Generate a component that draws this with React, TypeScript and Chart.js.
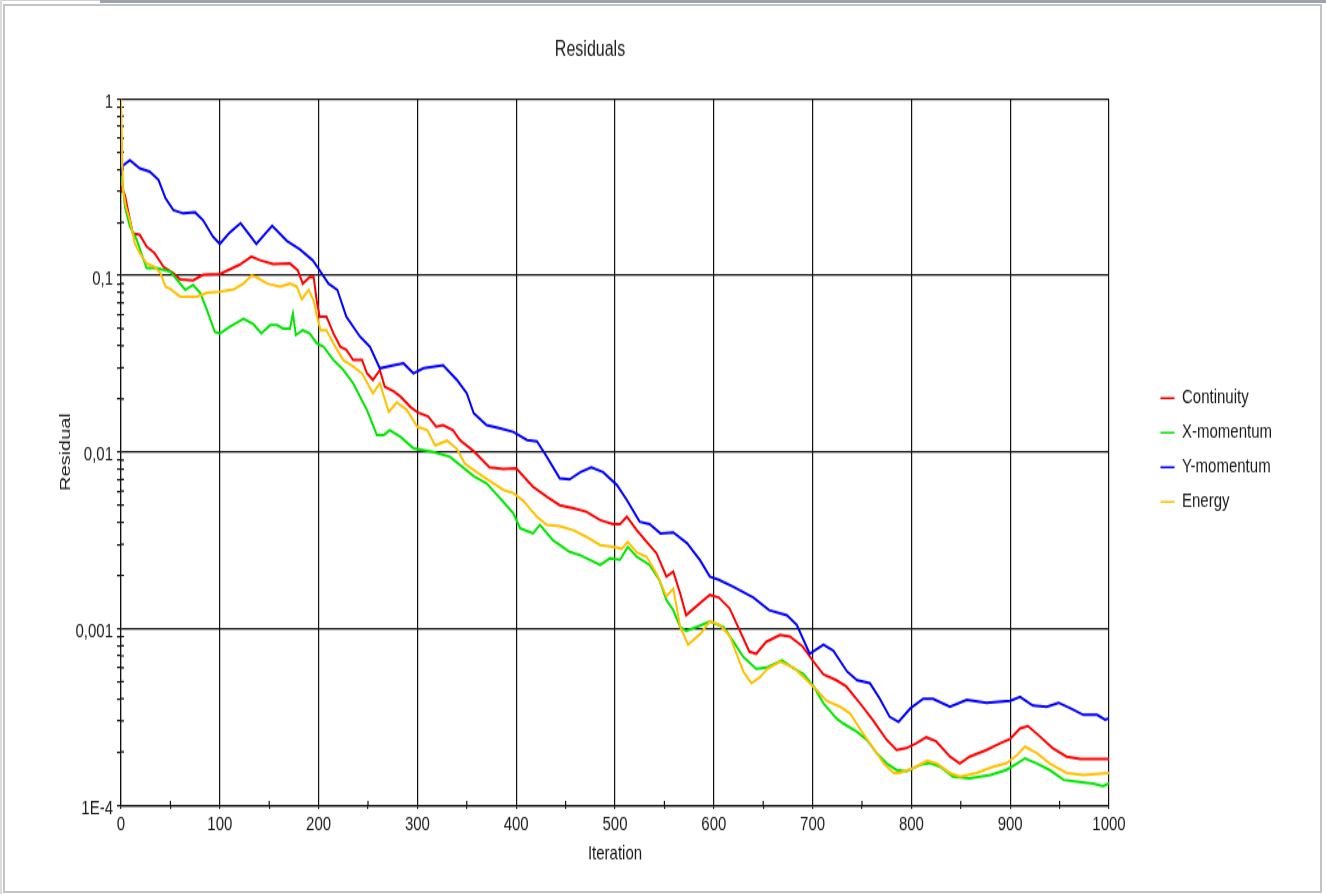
import React, { useEffect, useRef } from 'react';
import { Chart, registerables } from 'chart.js';

Chart.register(...registerables);

// ---------------- data ----------------
const continuityIter = [0, 4, 7, 12, 19, 26, 34, 43, 53, 60, 73, 83, 100, 120, 132, 141, 154, 171, 179, 184, 191, 195, 198, 201, 208, 215, 222, 228, 235, 244, 249, 255, 262, 267, 276, 283, 293, 300, 311, 319, 326, 336, 343, 347, 357, 373, 387, 400, 417, 431, 444, 458, 471, 485, 498, 505, 512, 522, 532, 542, 552, 559, 566, 572, 586, 596, 605, 616, 626, 636, 643, 653, 667, 677, 690, 700, 711, 724, 734, 748, 761, 775, 785, 795, 805, 815, 825, 839, 849, 859, 876, 890, 900, 910, 918, 930, 943, 957, 971, 1000];
const continuityRes = [0.32, 0.286, 0.235, 0.173, 0.17, 0.146, 0.134, 0.112, 0.103, 0.095, 0.094, 0.101, 0.102, 0.115, 0.128, 0.122, 0.116, 0.117, 0.107, 0.09, 0.098, 0.098, 0.0726, 0.0585, 0.0585, 0.047, 0.0395, 0.038, 0.0332, 0.0332, 0.0279, 0.0256, 0.0292, 0.0234, 0.0221, 0.0206, 0.018, 0.0168, 0.0159, 0.0139, 0.0142, 0.0133, 0.0117, 0.0112, 0.0101, 0.0082, 0.008, 0.0081, 0.00636, 0.00558, 0.005, 0.0048, 0.00459, 0.00412, 0.0039, 0.0039, 0.0043, 0.00361, 0.0031, 0.00267, 0.00197, 0.0021, 0.00158, 0.00119, 0.00139, 0.00155, 0.0015, 0.0013, 0.00098, 0.00074, 0.00072, 0.00084, 0.00092, 0.0009, 0.00079, 0.00066, 0.00055, 0.00051, 0.00047, 0.000377, 0.000303, 0.000234, 0.000205, 0.00021, 0.000224, 0.000242, 0.00023, 0.000188, 0.000172, 0.000188, 0.000205, 0.000224, 0.000237, 0.000272, 0.00028, 0.000245, 0.00021, 0.000188, 0.000182, 0.000182];

const xMomentumIter = [0, 4, 9, 16, 23, 26, 36, 50, 60, 65, 73, 80, 87, 95, 100, 110, 124, 134, 142, 151, 158, 164, 171, 174, 177, 184, 191, 198, 205, 215, 225, 235, 249, 259, 266, 272, 283, 296, 316, 333, 347, 357, 370, 384, 397, 404, 417, 424, 437, 454, 465, 485, 495, 505, 513, 522, 535, 545, 552, 559, 566, 572, 586, 596, 610, 620, 630, 643, 653, 669, 680, 691, 701, 711, 724, 731, 745, 755, 765, 775, 785, 795, 809, 819, 829, 842, 859, 880, 896, 907, 915, 927, 940, 954, 967, 984, 994, 1000];
const xMomentumRes = [0.41, 0.245, 0.189, 0.159, 0.122, 0.11, 0.11, 0.105, 0.09, 0.083, 0.0885, 0.08, 0.0638, 0.048, 0.047, 0.0513, 0.057, 0.053, 0.047, 0.0524, 0.0524, 0.05, 0.05, 0.061, 0.046, 0.049, 0.047, 0.0413, 0.0395, 0.0332, 0.0292, 0.0245, 0.0173, 0.0125, 0.0125, 0.0133, 0.0122, 0.0105, 0.01, 0.0094, 0.0081, 0.0073, 0.00665, 0.00545, 0.0045, 0.0037, 0.00346, 0.00386, 0.00317, 0.00272, 0.0026, 0.00229, 0.0025, 0.00245, 0.0029, 0.00255, 0.00229, 0.00188, 0.00145, 0.00127, 0.00102, 0.00097, 0.00104, 0.0011, 0.00102, 0.00084, 0.00069, 0.00059, 0.0006, 0.00066, 0.0006, 0.00055, 0.00047, 0.000377, 0.00031, 0.00029, 0.00026, 0.000234, 0.000196, 0.000172, 0.000158, 0.000155, 0.000169, 0.000173, 0.000165, 0.000145, 0.000142, 0.000148, 0.000158, 0.000172, 0.000184, 0.000172, 0.000158, 0.000139, 0.000136, 0.000132, 0.000128, 0.000133];

const yMomentumIter = [0, 2, 9, 19, 29, 38, 45, 53, 63, 75, 83, 93, 100, 110, 121, 130, 137, 145, 153, 168, 181, 194, 201, 210, 219, 228, 242, 252, 262, 276, 286, 296, 306, 326, 340, 350, 357, 370, 384, 397, 411, 421, 431, 444, 454, 465, 476, 488, 502, 512, 525, 535, 546, 559, 573, 586, 596, 605, 620, 640, 656, 674, 684, 697, 711, 721, 735, 745, 758, 768, 778, 787, 799, 812, 822, 839, 856, 876, 900, 910, 923, 937, 949, 961, 974, 988, 996, 1000];
const yMomentumRes = [0.37, 0.42, 0.45, 0.405, 0.388, 0.348, 0.274, 0.235, 0.225, 0.228, 0.206, 0.166, 0.151, 0.175, 0.198, 0.17, 0.151, 0.17, 0.191, 0.157, 0.141, 0.122, 0.107, 0.09, 0.0828, 0.0585, 0.045, 0.0395, 0.0298, 0.031, 0.0318, 0.0279, 0.0298, 0.031, 0.0256, 0.0215, 0.0166, 0.0142, 0.0136, 0.013, 0.0117, 0.0115, 0.0094, 0.0071, 0.007, 0.0077, 0.0082, 0.0077, 0.0065, 0.00535, 0.00403, 0.0039, 0.00346, 0.0035, 0.00304, 0.00244, 0.00197, 0.00189, 0.00172, 0.0015, 0.00127, 0.00119, 0.00105, 0.00072, 0.00081, 0.00075, 0.00057, 0.00051, 0.00049, 0.0004, 0.000316, 0.000296, 0.000353, 0.0004, 0.0004, 0.00036, 0.000394, 0.00038, 0.00039, 0.00041, 0.000366, 0.00036, 0.00038, 0.000353, 0.000324, 0.000324, 0.000305, 0.00031];

const energyIter = [0, 2, 5, 9, 14, 19, 26, 34, 40, 45, 50, 60, 77, 87, 100, 114, 124, 132, 137, 148, 161, 171, 178, 183, 190, 195, 198, 202, 208, 215, 225, 235, 244, 255, 262, 271, 279, 289, 300, 310, 318, 330, 340, 348, 360, 374, 387, 397, 407, 421, 431, 444, 458, 471, 485, 498, 507, 513, 522, 532, 542, 552, 559, 566, 574, 586, 596, 606, 616, 623, 630, 638, 647, 654, 667, 681, 694, 704, 714, 728, 738, 748, 758, 772, 782, 788, 802, 816, 826, 839, 849, 866, 883, 896, 907, 915, 927, 940, 957, 974, 1000];
const energyRes = [1, 0.305, 0.245, 0.206, 0.152, 0.134, 0.117, 0.112, 0.103, 0.0865, 0.084, 0.076, 0.076, 0.08, 0.081, 0.0835, 0.09, 0.1, 0.098, 0.09, 0.0865, 0.09, 0.0865, 0.0733, 0.083, 0.072, 0.0597, 0.049, 0.049, 0.0413, 0.0332, 0.0306, 0.0279, 0.0215, 0.0245, 0.0169, 0.0191, 0.0174, 0.0139, 0.0133, 0.0109, 0.0116, 0.0104, 0.0086, 0.0077, 0.0068, 0.0061, 0.00585, 0.0053, 0.0043, 0.00386, 0.0038, 0.0036, 0.00331, 0.00297, 0.0029, 0.00283, 0.0031, 0.0027, 0.00255, 0.00205, 0.00152, 0.00168, 0.00102, 0.00081, 0.00093, 0.0011, 0.00105, 0.00091, 0.00072, 0.00057, 0.00049, 0.00053, 0.00059, 0.00065, 0.0006, 0.00051, 0.00045, 0.00039, 0.00036, 0.00033, 0.00027, 0.000224, 0.000172, 0.000152, 0.000152, 0.000162, 0.000178, 0.000172, 0.000152, 0.000145, 0.000152, 0.000165, 0.000172, 0.000192, 0.000214, 0.000197, 0.000172, 0.000152, 0.000148, 0.000152];

const seriesLabels = ['Continuity', 'X-momentum', 'Y-momentum', 'Energy'];
const seriesColors = ['#ff0000', '#00e600', '#0000ff', '#ffc000'];

const X_TICKS = [0, 50, 100, 150, 200, 250, 300, 350, 400, 450, 500, 550, 600, 650, 700, 750, 800, 850, 900, 950, 1000];
const X_LABEL_STEP = 100;
const Y_DECADES = [1e-4, 1e-3, 1e-2, 1e-1, 1];
const Y_DECADE_LABELS = ['1E-4', '0,001', '0,01', '0,1', '1'];
const Y_MULTIPLIERS = [1, 2, 3, 4, 5, 6, 7, 8, 9];

const TITLE = 'Residuals';
const X_TITLE = 'Iteration';
const Y_TITLE = 'Residual';

// ---------------- layout ----------------
const PAGE_W = 1326;
const PAGE_H = 894;
const CANVAS_H = 672;
const K = PAGE_H / CANVAS_H; // vertical stretch
const SHIFT = 102;
const CANVAS_W = 1384;
const PLOT_LEFT = 121;
const PLOT_RIGHT = 1109;
const PLOT_TOP = 99;
const PLOT_BOTTOM = 805;
const PAD_BOTTOM = -4.4;
const FONT = "'Liberation Sans', Arial, Helvetica, sans-serif";
const INK = '#1a1a1a';
const GRID = '#111111';

const isMajorY = (v: number) => Y_DECADES.some((d) => Math.abs(v / d - 1) < 1e-6);
const yLabel = (v: number) => {
  const i = Y_DECADES.findIndex((d) => Math.abs(v / d - 1) < 1e-6);
  return i >= 0 ? Y_DECADE_LABELS[i] : '';
};

const minorStubs = {
  id: 'minorStubs',
  beforeDatasetsDraw(chart: any) {
    const { ctx, chartArea, scales } = chart;
    const ys = scales.y;
    const xs = scales.x;
    ctx.save();
    ctx.strokeStyle = GRID;
    ctx.lineWidth = 1.2;
    ctx.beginPath();
    for (const t of ys.ticks) {
      if (!isMajorY(t.value)) {
        const py = ys.getPixelForValue(t.value);
        ctx.moveTo(chartArea.left, py);
        ctx.lineTo(chartArea.left + 3, py);
      }
    }
    for (const t of xs.ticks) {
      if (t.value % X_LABEL_STEP !== 0) {
        const px = xs.getPixelForValue(t.value);
        ctx.moveTo(px, chartArea.bottom);
        ctx.lineTo(px, chartArea.bottom - 3);
      }
    }
    ctx.stroke();
    ctx.restore();
  },
};

export default function App() {
  const ref = useRef<HTMLCanvasElement | null>(null);

  useEffect(() => {
    document.body.style.margin = '0';
    const canvas = ref.current;
    if (!canvas) return;

    const iters = [continuityIter, xMomentumIter, yMomentumIter, energyIter];
    const vals = [continuityRes, xMomentumRes, yMomentumRes, energyRes];
    const orders = [3, 2, 1, 0];

    const datasets = seriesLabels.map((label, s) => ({
      label,
      data: iters[s].map((x, i) => ({ x, y: vals[s][i] })),
      borderColor: seriesColors[s],
      backgroundColor: seriesColors[s],
      borderWidth: 2,
      pointRadius: 0,
      tension: 0,
      order: orders[s],
    }));

    const chart = new Chart(canvas, {
      type: 'line',
      data: { datasets },
      plugins: [minorStubs],
      options: {
        animation: false,
        responsive: true,
        maintainAspectRatio: false,
        devicePixelRatio: 1,
        events: [],
        layout: { padding: { left: 0, right: 0, top: 0, bottom: PAD_BOTTOM } },
        plugins: {
          tooltip: { enabled: false },
          title: {
            display: true,
            text: TITLE,
            color: INK,
            font: { family: FONT, size: 16, weight: 'normal', lineHeight: 1.2 },
            padding: { top: 28, bottom: PLOT_TOP / K - 28 - 19.2 },
          },
          legend: {
            display: true,
            position: 'right',
            labels: {
              color: INK,
              font: { family: FONT, size: 15 },
              usePointStyle: true,
              pointStyle: 'line',
              pointStyleWidth: 14,
              padding: 11,
              sort: (a: any, b: any) => a.datasetIndex - b.datasetIndex,
              generateLabels: (c: any) =>
                (Chart as any).defaults.plugins.legend.labels
                  .generateLabels(c)
                  .map((l: any) => ({ ...l, lineWidth: 1.5 })),
            },
          },
        },
        scales: {
          x: {
            type: 'linear',
            min: 0,
            max: 1000,
            afterBuildTicks: (s: any) => {
              s.ticks = X_TICKS.map((v) => ({ value: v }));
            },
            afterFit: (s: any) => {
              s.height = CANVAS_H - PAD_BOTTOM - PLOT_BOTTOM / K;
            },
            ticks: {
              autoSkip: false,
              maxRotation: 0,
              minRotation: 0,
              padding: 3,
              color: INK,
              font: { family: FONT, size: 15 },
              callback: (v: any) => (Number(v) % X_LABEL_STEP === 0 ? String(v) : ''),
            },
            grid: {
              color: (c: any) =>
                c.tick && c.tick.value % X_LABEL_STEP === 0 ? GRID : 'rgba(0,0,0,0)',
              tickColor: GRID,
              lineWidth: 1.2,
              tickLength: 3,
            },
            border: { display: true, color: GRID, width: 1.2 },
            title: {
              display: true,
              text: X_TITLE,
              color: INK,
              font: { family: FONT, size: 15, lineHeight: 1.2 },
              padding: { top: 0, bottom: CANVAS_H - PAD_BOTTOM - 853.5 / K - 9 },
            },
          },
          y: {
            type: 'logarithmic',
            position: 'left',
            min: Y_DECADES[0],
            max: Y_DECADES[Y_DECADES.length - 1],
            afterBuildTicks: (s: any) => {
              const t: any[] = [];
              for (let d = 0; d < Y_DECADES.length - 1; d++) {
                for (const m of Y_MULTIPLIERS) t.push({ value: +(Y_DECADES[d] * m).toPrecision(2) });
              }
              t.push({ value: Y_DECADES[Y_DECADES.length - 1] });
              s.ticks = t;
            },
            afterFit: (s: any) => {
              s.width = PLOT_LEFT + SHIFT;
            },
            ticks: {
              autoSkip: false,
              padding: 4,
              labelOffset: 2.3,
              color: INK,
              font: { family: FONT, size: 15 },
              callback: (v: any) => yLabel(Number(v)),
            },
            grid: {
              color: (c: any) => (c.tick && isMajorY(c.tick.value) ? GRID : 'rgba(0,0,0,0)'),
              tickColor: GRID,
              lineWidth: 1.2,
              tickLength: 4,
            },
            border: { display: true, color: GRID, width: 1.2 },
            title: {
              display: true,
              text: Y_TITLE,
              color: INK,
              font: { family: FONT, size: 15, lineHeight: 1.2 },
              padding: { top: 66 + SHIFT - 9, bottom: 0 },
            },
          },
          spacer: {
            type: 'linear',
            position: 'right',
            display: true,
            grid: { display: false, drawTicks: false },
            border: { display: false },
            ticks: { display: false },
            afterFit: (s: any) => {
              const leg = s.chart.legend;
              const legW = leg && leg.width ? leg.width : 130;
              s.width = Math.max(0, s.chart.width - legW - (PLOT_RIGHT + SHIFT));
            },
          },
        },
      } as any,
    });

    return () => chart.destroy();
  }, []);

  const frame = [
    { l: 0, t: 0, w: 100, h: 1, c: '#d0d0d0' },
    { l: 100, t: 0, w: PAGE_W - 100, h: 3, c: '#9ea2aa' },
    { l: 0, t: 0, w: 2, h: PAGE_H, c: '#dcdcdc' },
  ];

  return (
    <div
      style={{
        position: 'fixed',
        left: 0,
        top: 0,
        width: PAGE_W,
        height: PAGE_H,
        overflow: 'hidden',
        background: '#ffffff',
      }}
    >
      <div
        style={{
          position: 'absolute',
          left: -SHIFT,
          top: 0,
          width: CANVAS_W,
          height: CANVAS_H,
          transform: `scaleY(${K})`,
          transformOrigin: '0 0',
        }}
      >
        <canvas ref={ref} />
      </div>
      {frame.map((f, i) => (
        <div
          key={i}
          style={{ position: 'absolute', left: f.l, top: f.t, width: f.w, height: f.h, background: f.c }}
        />
      ))}
      <div
        style={{
          position: 'absolute',
          left: 3,
          top: 4,
          width: 1319,
          height: 889,
          boxSizing: 'border-box',
          border: '2px solid #c4c4c4',
        }}
      />
    </div>
  );
}
